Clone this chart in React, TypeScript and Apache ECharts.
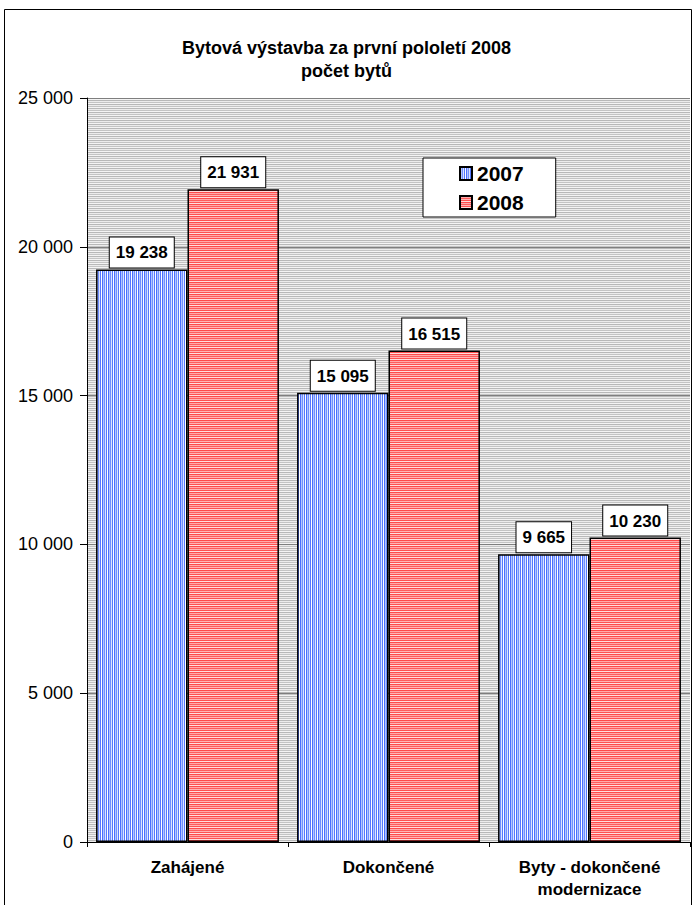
import React, { useEffect, useRef } from "react";
import * as echarts from "echarts";

const categories = ["Zahájené", "Dokončené", "Byty - dokončené\nmodernizace"];
const series2007 = [19238, 15095, 9665];
const series2008 = [21931, 16515, 10230];
const seriesNames = ["2007", "2008"];

function makePattern(colors: string[], vertical: boolean) {
  const c = document.createElement("canvas");
  const n = colors.length;
  c.width = vertical ? n : 4;
  c.height = vertical ? 4 : n;
  const ctx = c.getContext("2d")!;
  colors.forEach((col, i) => {
    ctx.fillStyle = col;
    if (vertical) ctx.fillRect(i, 0, 1, 4);
    else ctx.fillRect(0, i, 4, 1);
  });
  return {
    image: c,
    repeat: "repeat",
    imageWidth: c.width,
    imageHeight: c.height,
  } as any;
}

const fmt = (v: number) => String(v).replace(/\B(?=(\d{3})+(?!\d))/g, " ");

export default function App() {
  const ref = useRef<HTMLDivElement>(null);
  useEffect(() => {
    const chart = echarts.init(ref.current!, null, { renderer: "svg" });
    const bluePat = makePattern(
      ["#4a6fff", "#b3c6ff", "#7090ff", "#dbe4ff", "#5578ff", "#ffffff"],
      true
    );
    const redPat = makePattern(
      ["#ff4a4a", "#ffaaaa", "#ff5c5c", "#ffb3b3", "#ff5050", "#ffdddd"],
      false
    );
    const bgPat = makePattern(["#b8b8b8", "#ececec", "#c4c4c4", "#f4f4f4"], false);
    const font = "Liberation Sans, Arial, sans-serif";
    const label = {
      show: true,
      position: "top",
      distance: 2,
      backgroundColor: "#ffffff",
      borderColor: "#000000",
      borderWidth: 1,
      padding: [7, 6, 6, 6],
      color: "#000",
      fontWeight: "bold",
      fontSize: 17,
      fontFamily: font,
      formatter: (p: any) => fmt(p.value),
    };
    chart.setOption({
      animation: false,
      backgroundColor: "#ffffff",
      textStyle: { fontFamily: font },
      title: {
        text: "Bytová výstavba za první pololetí 2008\npočet bytů",
        left: "center",
        top: 31,
        textStyle: {
          fontSize: 18,
          fontWeight: "bold",
          color: "#000",
          lineHeight: 23,
          fontFamily: font,
        },
      },
      legend: {
        orient: "vertical",
        left: 423,
        top: 158,
        padding: [5, 32, 4, 36],
        backgroundColor: "#ffffff",
        borderColor: "#000",
        borderWidth: 1,
        borderRadius: 0,
        itemWidth: 12,
        itemHeight: 13,
        itemGap: 8,
        icon: "rect",
        textStyle: {
          fontSize: 21,
          fontWeight: "bold",
          color: "#000",
          lineHeight: 21,
          fontFamily: font,
        },
        data: seriesNames,
      },
      grid: {
        left: 87,
        right: 3,
        top: 98,
        bottom: 63,
        show: true,
        backgroundColor: bgPat,
        borderWidth: 0,
      },
      xAxis: {
        type: "category",
        data: categories,
        axisLine: { lineStyle: { color: "#000", width: 1 } },
        axisTick: { show: true, length: 5, lineStyle: { color: "#000" } },
        axisLabel: {
          color: "#000",
          fontSize: 17,
          fontWeight: "bold",
          lineHeight: 22,
          margin: 14,
          fontFamily: font,
        },
      },
      yAxis: {
        type: "value",
        min: 0,
        max: 25000,
        interval: 5000,
        axisLine: { show: true, lineStyle: { color: "#000", width: 1 } },
        axisTick: { show: true, length: 7, lineStyle: { color: "#000" } },
        axisLabel: {
          color: "#000",
          fontSize: 18,
          margin: 14,
          fontFamily: font,
          formatter: (v: number) => fmt(v),
        },
        splitLine: { show: true, lineStyle: { color: "#7f7f7f", width: 1 } },
      },
      series: [
        {
          name: seriesNames[0],
          type: "bar",
          data: series2007,
          barGap: "0%",
          barCategoryGap: "9%",
          itemStyle: { color: bluePat, borderColor: "#000", borderWidth: 1.5 },
          label,
        },
        {
          name: seriesNames[1],
          type: "bar",
          data: series2008,
          barGap: "0%",
          barCategoryGap: "9%",
          itemStyle: { color: redPat, borderColor: "#000", borderWidth: 1.5 },
          label,
        },
      ],
      graphic: [
        {
          type: "rect",
          shape: { x: 4.5, y: 9.5, width: 687, height: 900 },
          style: { fill: "none", stroke: "#000", lineWidth: 1 },
          silent: true,
        },
      ],
    });
    return () => chart.dispose();
  }, []);
  return (
    <div
      ref={ref}
      style={{ width: 693, height: 905, position: "absolute", left: 0, top: 0 }}
    />
  );
}
